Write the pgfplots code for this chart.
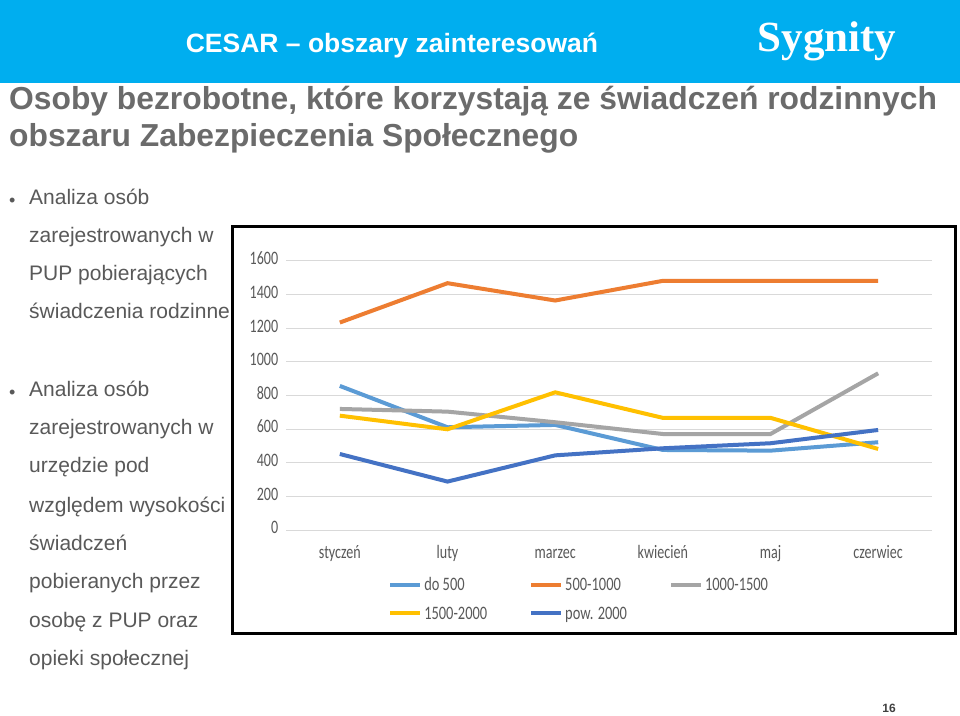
\documentclass[border=0pt]{standalone}
\usepackage{pgfplots}
\pgfplotsset{compat=1.18}
\usepackage{fontspec}
\setmainfont{Liberation Sans}
\newfontfamily\chartfont{Carlito}
\newfontfamily\logofont{Liberation Serif}
\definecolor{hdr}{HTML}{00AEEF}
\definecolor{ttl}{HTML}{6B6B6B}
\definecolor{txt}{HTML}{595959}
\definecolor{sA}{HTML}{5B9BD5}
\definecolor{sB}{HTML}{ED7D31}
\definecolor{sC}{HTML}{A5A5A5}
\definecolor{sD}{HTML}{FFC000}
\definecolor{sE}{HTML}{4472C4}
\definecolor{grd}{HTML}{D9D9D9}
\newcommand{\legtxt}[1]{\scalebox{0.76}[1]{\strut #1}}
\pgfplotstableread{
m doA bB cC dD eE
0 857 1234 720 680 452
1 611 1468 704 599 288
2 625 1365 641 819 444
3 476 1482 571 667 486
4 472 1482 571 667 516
5 522 1482 932 482 595
}\datatab
\begin{document}
\begin{tikzpicture}[x=1pt,y=1pt]
\path[fill=white] (0,0) rectangle (960,714);
\fill[hdr] (0,631) rectangle (960,714);
\node[text=white,font=\fontsize{26.5}{30}\selectfont\bfseries,anchor=base] at (392,661) {CESAR -- obszary zainteresowań};
\node[text=white,font=\logofont\fontsize{43}{46}\selectfont\bfseries,anchor=base] at (827,662) {Sygnity};
\node[text=ttl,font=\fontsize{31.8}{34}\selectfont\bfseries,anchor=base west,inner sep=0] at (9,604) {Osoby bezrobotne, które korzystają ze świadczeń rodzinnych};
\node[text=ttl,font=\fontsize{31.8}{34}\selectfont\bfseries,anchor=base west,inner sep=0] at (9,567) {obszaru Zabezpieczenia Społecznego};
\begin{scope}[every node/.style={text=txt,font=\fontsize{21}{24}\selectfont,anchor=base west,inner sep=0}]
\node at (9,507) {\fontsize{18}{18}\selectfont •};
\node at (29,509) {Analiza osób};
\node at (29,471) {zarejestrowanych w};
\node at (29,433) {PUP pobierających};
\node at (29,395) {świadczenia rodzinne};
\node at (9,315) {\fontsize{18}{18}\selectfont •};
\node at (29,317) {Analiza osób};
\node at (29,279) {zarejestrowanych w};
\node at (29,241) {urzędzie pod};
\node at (29,202) {względem wysokości};
\node at (29,164) {świadczeń};
\node at (29,126) {pobieranych przez};
\node at (29,87) {osobę z PUP oraz};
\node at (29,49) {opieki społecznej};
\end{scope}
\fill[white] (232,81) rectangle (955,487);
\draw[line width=3pt] (232,81) rectangle (955,487);
\begin{axis}[
  at={(286pt,184pt)}, anchor=south west,
  scale only axis, width=646pt, height=269pt,
  xmin=-0.5, xmax=5.5, ymin=0, ymax=1600,
  clip=false,
  axis line style={draw=none}, tick style={draw=none},
  ymajorgrids, grid style={grd, line width=1pt},
  xtick={0,...,5},
  xticklabels={styczeń,luty,marzec,kwiecień,maj,czerwiec},
  ytick={0,200,...,1600},
  /pgf/number format/.cd, assume math mode=true, 1000 sep={},
  /pgfplots/.cd,
  typeset ticklabels with strut,
  ticklabel style={font=\chartfont\fontsize{19}{19}\selectfont, text=txt, xscale=0.74},
  yticklabel style={xshift=-7pt},
  xticklabel style={yshift=-12pt},
  legend columns=3,
  legend style={at={(0.158,-0.167)}, anchor=north west, draw=none, fill=none,
    font=\chartfont\fontsize{19}{19}\selectfont, text=txt,
    /tikz/every even column/.append style={column sep=40pt},
    row sep=10pt, inner sep=0pt},
  legend cell align=left,
  legend image code/.code={\draw[#1, line width=4pt] (0pt,0pt) -- (30pt,0pt);},
  every axis plot/.append style={line width=4pt, mark=none},
]
\addplot[sA] table[x=m,y=doA] {\datatab};
\addlegendentry{\legtxt{do 500}}
\addplot[sB] table[x=m,y=bB] {\datatab};
\addlegendentry{\legtxt{500-1000}}
\addplot[sC] table[x=m,y=cC] {\datatab};
\addlegendentry{\legtxt{1000-1500}}
\addplot[sD] table[x=m,y=dD] {\datatab};
\addlegendentry{\legtxt{1500-2000}}
\addplot[sE] table[x=m,y=eE] {\datatab};
\addlegendentry{\legtxt{pow. 2000}}
\end{axis}
\node[text=black!75,font=\fontsize{12}{12}\selectfont\bfseries] at (889,6) {16};
\end{tikzpicture}
\end{document}
